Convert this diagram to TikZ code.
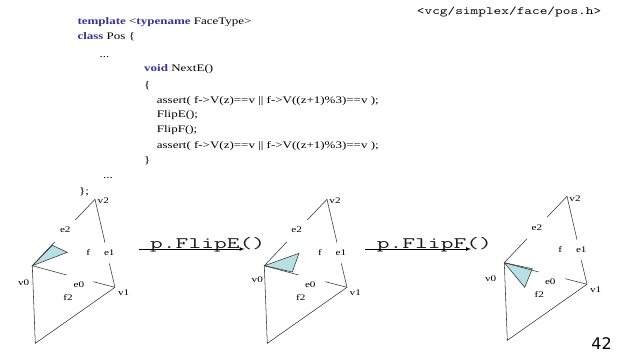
\documentclass[tikz,border=0pt]{standalone}
\usepackage{fontspec}
\setmainfont{Liberation Serif}[FakeStretch=1.3]
\newfontfamily\headfont[FakeStretch=1.33]{Latin Modern Mono}
\newfontfamily\flipfont[FakeStretch=1.55]{Latin Modern Mono}
\setsansfont{DejaVu Sans}
\usepackage{xcolor}
\usepackage{tikz}
\usetikzlibrary{arrows,positioning,calc}
\definecolor{keywordblue}{RGB}{51,51,153}
\definecolor{wedgecyan}{RGB}{184,224,228}
\newcommand{\kw}[1]{\textcolor{keywordblue}{\textbf{#1}}}
\tikzset{
  code/.style={anchor=base west,inner sep=0pt,font=\fontsize{10}{12}\selectfont},
  lab/.style={inner sep=0pt,font=\fontsize{8.6}{10}\selectfont},
  edge/.style={line width=0.55pt,black!80},
  wedge/.style={fill=wedgecyan,draw=black!80,line width=0.55pt},
  flipcall/.style={anchor=base west,inner sep=0pt,font=\flipfont\fontsize{16}{18}\selectfont,black!90},
  fliparrow/.style={->,>=latex,line width=0.7pt}
}
\begin{document}
\begin{tikzpicture}[x=1pt,y=-1pt]
\useasboundingbox (0,0) rectangle (619,354);

% Header and source code
\node[anchor=base west,inner sep=0pt,font=\headfont\fontsize{11}{13}\selectfont] (header) at (416.7,14) {<vcg/simplex/face/pos.h>};
\node[code] (line1) at (77.3,24) {\kw{template} <\kw{typename} FaceType>};
\node[code] (line2) at (77.3,39.7) {\kw{class} Pos \{};
\node[code] (line3) at (99.3,57) {...};
\node[code] (line4) at (144,71.7) {\kw{void} NextE()};
\node[code] (line5) at (144,88) {\{};
\node[code] (line6) at (156.7,103) {assert( f->V(z)==v || f->V((z+1)\%3)==v );};
\node[code] (line7) at (156.7,117) {FlipE();};
\node[code] (line8) at (156.7,132.7) {FlipF();};
\node[code] (line9) at (156.7,148) {assert( f->V(z)==v || f->V((z+1)\%3)==v );};
\node[code] (line10) at (144,163) {\}};
\node[code] (line11) at (103,178) {...};
\node[code] (line12) at (79,194) {\};};

% Three copies of the mesh
\foreach \name/\dx/\dy in {a/0/0,b/232/0,c/472/-3} {
  \begin{scope}[shift={(\dx,\dy)}]
    \coordinate (v0\name) at (32.3,265.7);
    \coordinate (v1\name) at (115,287.3);
    \coordinate (v2\name) at (95,199.3);
    \coordinate (v3\name) at (35.3,343.3);
    \coordinate (e2u\name) at (75.3,220);
    \coordinate (e2l\name) at (55,241.7);
    \coordinate (e1u\name) at (105,242.7);
    \coordinate (e1l\name) at (109.3,263.3);
    \coordinate (e0l\name) at (66.7,275);
    \coordinate (e0r\name) at (93.3,281.7);
  \end{scope}
}

% Wedges, below the edges
\draw[wedge] (v0a) -- (52.3,245.3) -- (67.3,252.3) -- cycle;
\draw[wedge] (v0b) -- (299,253.3) -- (292.3,272) -- cycle;
\draw[wedge] (v0c) -- (532.3,268.7) -- (524.7,287.3) -- cycle;

\foreach \name in {a,b,c} {
  \draw[edge] (v2\name) -- (e2u\name);
  \draw[edge] (e2l\name) -- (v0\name);
  \draw[edge] (v2\name) -- (e1u\name);
  \draw[edge] (e1l\name) -- (v1\name);
  \draw[edge] (v0\name) -- (e0l\name);
  \draw[edge] (e0r\name) -- (v1\name);
  \draw[edge] (v0\name) -- (v3\name) -- (v1\name);
}

% Labels
\node[lab] (v0la) at (23.7,282.3) {v0};
\node[lab] (v1la) at (123.7,292.3) {v1};
\node[lab] (v2la) at (103.3,201) {v2};
\node[lab] (e0la) at (79,284.7) {e0};
\node[lab] (e1la) at (109.3,252.7) {e1};
\node[lab] (e2la) at (65.3,229.3) {e2};
\node[lab] (fla) at (88.3,252.3) {f};
\node[lab] (f2la) at (68,297) {f2};

\node[lab] (v0lb) at (257.3,279.3) {v0};
\node[lab] (v1lb) at (355.3,292.3) {v1};
\node[lab] (v2lb) at (335,201) {v2};
\node[lab] (e0lb) at (310.3,284.7) {e0};
\node[lab] (e1lb) at (341,252.7) {e1};
\node[lab] (e2lb) at (296.7,229.3) {e2};
\node[lab] (flb) at (320,252.3) {f};
\node[lab] (f2lb) at (300.7,297) {f2};

\node[lab] (v0lc) at (490.7,278.3) {v0};
\node[lab] (v1lc) at (595.7,290) {v1};
\node[lab] (v2lc) at (575,198.7) {v2};
\node[lab] (e0lc) at (550.3,281.7) {e0};
\node[lab] (e1lc) at (581.3,249.3) {e1};
\node[lab] (e2lc) at (537,227.3) {e2};
\node[lab] (flc) at (560.3,249) {f};
\node[lab] (f2lc) at (539.3,294.3) {f2};

% Flip calls
\node[flipcall] (flipe) at (150,248) {p.FlipE()};
\node[flipcall] (flipf) at (376.7,248) {p.FlipF()};
\coordinate (flipes) at (139,249);
\coordinate (flipee) at (244.5,249);
\coordinate (flipfs) at (365,249);
\coordinate (flipfe) at (471,249);
\draw[fliparrow] (flipes) -- (flipee);
\draw[fliparrow] (flipfs) -- (flipfe);

\node[anchor=base east,inner sep=0pt,font=\sffamily\fontsize{16}{18}\selectfont] (pagenum) at (612,349) {42};
\end{tikzpicture}
\end{document}
